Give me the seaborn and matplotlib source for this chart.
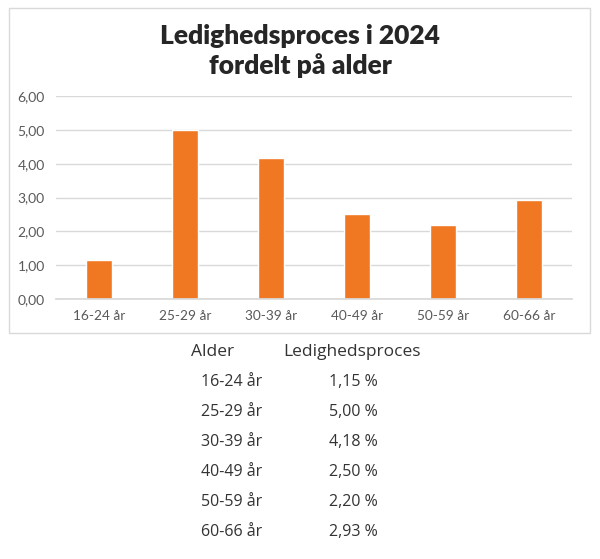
import matplotlib.pyplot as plt
import pandas as pd
import seaborn as sns
from matplotlib.patches import Rectangle

ALDER = ["16-24 år", "25-29 år", "30-39 år", "40-49 år", "50-59 år", "60-66 år"]
LEDIGHED = [1.15, 5.00, 4.18, 2.50, 2.20, 2.93]
Y_TICKS = [0, 1, 2, 3, 4, 5, 6]

ORANGE = "#F07822"
GRID = "#D9D9D9"
TICK = "#595959"
W, H = 600, 559


def fx(px):
    return px / W


def fy(py):
    return 1 - py / H


def fmt_dk(v, dec=2):
    return f"{v:.{dec}f}".replace(".", ",")


df = pd.DataFrame({"Alder": ALDER, "Ledighedsproces": LEDIGHED})

sns.set_theme(style="white")
plt.rcParams["font.family"] = ["Lato", "DejaVu Sans"]

fig = plt.figure(figsize=(W / 100, H / 100), dpi=100)
fig.patch.set_facecolor("white")

# ramme om diagrammet
fig.patches.append(Rectangle((fx(9), fy(333)), fx(590) - fx(9), fy(8) - fy(333),
                             transform=fig.transFigure, fill=False,
                             edgecolor="#D9D9D9", linewidth=1.0))

ax = fig.add_axes([fx(56), fy(299), fx(572) - fx(56), fy(96) - fy(299)])
sns.barplot(data=df, x="Alder", y="Ledighedsproces", color=ORANGE,
            saturation=1, width=0.30, ax=ax)
ax.set_ylim(0, 6)
ax.set_xlim(-0.5, len(ALDER) - 0.5)
ax.set_yticks(Y_TICKS)
ax.set_yticklabels([fmt_dk(v) for v in Y_TICKS])
ax.yaxis.grid(True, color=GRID, linewidth=1)
ax.set_axisbelow(True)
for s in ["top", "right", "left"]:
    ax.spines[s].set_visible(False)
ax.spines["bottom"].set_color(GRID)
ax.set_xlabel("")
ax.set_ylabel("")
ax.tick_params(axis="y", length=0, labelsize=10, colors=TICK, pad=8)
ax.tick_params(axis="x", length=0, labelsize=9.8, colors=TICK, pad=8)

fig.text(0.5, fy(36), "Ledighedsproces i 2024", ha="center", va="center",
         fontsize=19, fontweight="heavy", color="#262626")
fig.text(0.5, fy(66), "fordelt på alder", ha="center", va="center",
         fontsize=19, fontweight="heavy", color="#262626")

# tabel under diagrammet
TXT = "#333333"
TFONT = ["Open Sans", "DejaVu Sans"]
fig.text(fx(191), fy(352), "Alder", ha="left", va="center", fontsize=12.5,
         color=TXT, family=TFONT)
fig.text(fx(283), fy(352), "Ledighedsproces", ha="left", va="center",
         fontsize=12.5, color=TXT, family=TFONT)
for i, (a, v) in enumerate(zip(ALDER, LEDIGHED)):
    y = fy(382 + i * 30)
    fig.text(fx(201), y, a, ha="left", va="center", fontsize=11.5,
             color=TXT, family=TFONT)
    fig.text(fx(378), y, f"{fmt_dk(v)} %", ha="right", va="center",
             fontsize=11.5, color=TXT, family=TFONT)

fig.savefig("out.png", dpi=100, facecolor="white")
